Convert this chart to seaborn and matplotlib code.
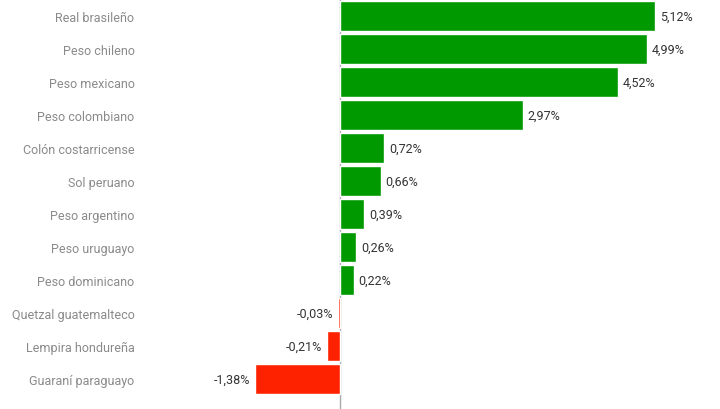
import matplotlib
matplotlib.use("Agg")
import matplotlib.pyplot as plt
import seaborn as sns
import pandas as pd

monedas = ["Real brasileño", "Peso chileno", "Peso mexicano", "Peso colombiano",
           "Colón costarricense", "Sol peruano", "Peso argentino", "Peso uruguayo",
           "Peso dominicano", "Quetzal guatemalteco", "Lempira hondureña", "Guaraní paraguayo"]
variacion = [5.12, 4.99, 4.52, 2.97, 0.72, 0.66, 0.39, 0.26, 0.22, -0.03, -0.21, -1.38]

verde = "#009a00"
rojo = "#ff2200"

df = pd.DataFrame({"moneda": monedas, "var": variacion})
colores = [verde if v >= 0 else rojo for v in variacion]

sns.set_style("white")
plt.rcParams["font.family"] = ["Roboto", "DejaVu Sans"]

fig = plt.figure(figsize=(7.2, 4.1), dpi=100)
# linea del cero en x=340 px, 61.5 px por punto porcentual
ax = fig.add_axes([240 / 720, 0, 460 / 720, 1])
sns.barplot(data=df, x="var", y="moneda", hue="moneda", palette=colores,
            legend=False, width=0.9, saturation=1, ax=ax)

ax.set_xlim((240 - 340) / 61.5, (700 - 340) / 61.5)
ax.set_ylim(11.9, -0.52)
ax.axvline(0, color="#aaaaaa", lw=1, zorder=0)

for i, v in enumerate(variacion):
    txt = f"{v:.2f}%".replace(".", ",")
    if v >= 0:
        ax.text(v + 0.08, i, txt, va="center", ha="left", fontsize=9, color="#333333")
    else:
        ax.text(v - 0.08, i, txt, va="center", ha="right", fontsize=9, color="#333333")

ax.set_xlabel("")
ax.set_ylabel("")
ax.set_xticks([])
ax.tick_params(axis="y", length=0, pad=76, labelsize=9, labelcolor="#8a8a8a")
sns.despine(ax=ax, left=True, bottom=True)

fig.savefig("out.png", dpi=100)
